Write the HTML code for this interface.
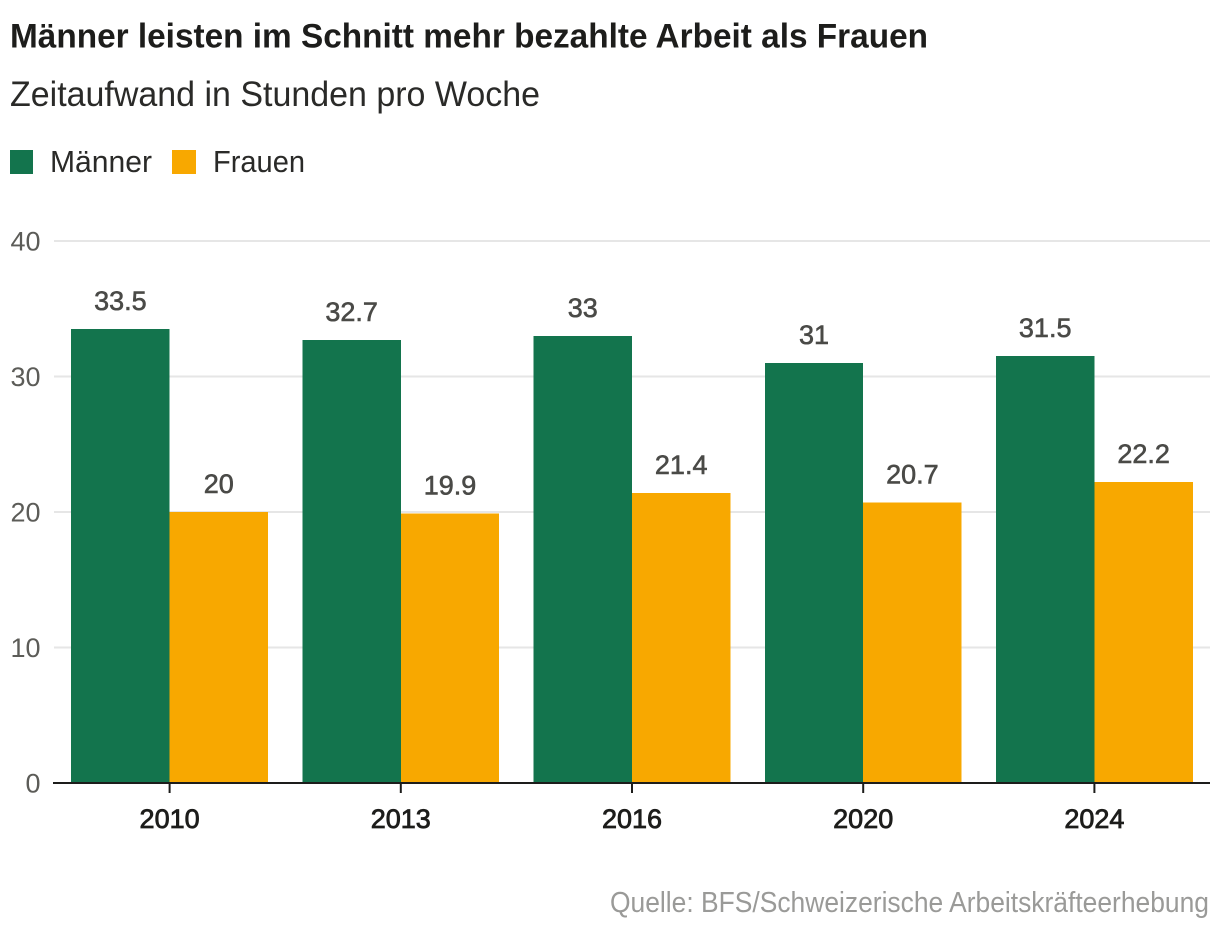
<!DOCTYPE html>
<html lang="de">
<head>
<meta charset="utf-8">
<title>Männer leisten im Schnitt mehr bezahlte Arbeit als Frauen</title>
<style>
html,body{margin:0;padding:0;background:#fff}
svg{display:block;font-family:"Liberation Sans",sans-serif}
</style>
</head>
<body>
<svg id="chart" xmlns="http://www.w3.org/2000/svg" width="1220" height="936" viewBox="0 0 1220 936">
<text x="10" y="47.5" font-size="34.5" font-weight="bold" fill="#1d1d1b" textLength="918" lengthAdjust="spacingAndGlyphs">Männer leisten im Schnitt mehr bezahlte Arbeit als Frauen</text>
<text x="10" y="106" font-size="35" fill="#2a2a28" textLength="530" lengthAdjust="spacingAndGlyphs">Zeitaufwand in Stunden pro Woche</text>
<rect x="10" y="150" width="23" height="24" fill="#13744d"/>
<text x="50" y="172" font-size="30.5" fill="#2a2a28" textLength="102" lengthAdjust="spacingAndGlyphs">Männer</text>
<rect x="172" y="150" width="24" height="24" fill="#f8a800"/>
<text x="213" y="172" font-size="30.5" fill="#2a2a28" textLength="92" lengthAdjust="spacingAndGlyphs">Frauen</text>
<g id="grid"></g>
<g id="bars" shape-rendering="crispEdges"></g>
<g id="values"></g>
<g id="xaxis"></g>
<text x="610" y="912" font-size="28.5" fill="#9a9a98" textLength="599" lengthAdjust="spacingAndGlyphs">Quelle: BFS/Schweizerische Arbeitskräfteerhebung</text>
</svg>
<script>
const categories = ["2010", "2013", "2016", "2020", "2024"];
const maenner = [33.5, 32.7, 33, 31, 31.5];
const frauen = [20, 19.9, 21.4, 20.7, 22.2];
const yTicks = [0, 10, 20, 30, 40];

const NS = "http://www.w3.org/2000/svg";
const plotLeft = 54, plotRight = 1210, plotBase = 783, plotTop = 241, yMax = 40;
const step = (plotRight - plotLeft) / categories.length;
const barWidth = 98.4;
function yScale(v) { return plotBase - (v / yMax) * (plotBase - plotTop); }
function xCenter(i) { return plotLeft + (i + 0.5) * step; }
function make(tag, attrs, parent, text) {
  const el = document.createElementNS(NS, tag);
  for (const k in attrs) el.setAttribute(k, attrs[k]);
  if (text !== undefined) el.textContent = text;
  parent.appendChild(el);
  return el;
}
const grid = document.getElementById("grid");
const bars = document.getElementById("bars");
const values = document.getElementById("values");
const xaxis = document.getElementById("xaxis");

yTicks.forEach(function (t) {
  const y = yScale(t);
  if (t !== 0) {
    const line = make("line", {x1: plotLeft, x2: plotRight, y1: y, y2: y, stroke: "#e6e6e6", "stroke-width": 2}, grid);
    
    
  }
  const label = make("text", {x: 40.5, y: y + 9.5, "text-anchor": "end", "font-size": 27, fill: "#5c5c58"}, grid, String(t));
  
  
});

function drawSeries(series, offset, color, seriesName) {
  series.forEach(function (v, i) {
    const x = xCenter(i) + offset;
    const y = yScale(v);
    const bar = make("rect", {x: x, y: y, width: barWidth, height: plotBase - y, fill: color}, bars);
    
    
    const label = make("text", {
      x: x + barWidth / 2, y: y - 19, "text-anchor": "middle", "font-size": 27,
      fill: "#4a4a47", stroke: "#4a4a47", "stroke-width": 0.6
    }, values, String(v));
    
    
  });
}
drawSeries(maenner, -barWidth, "#13744d", "maenner");
drawSeries(frauen, 0, "#f8a800", "frauen");

const axisLine = make("line", {x1: 53, x2: plotRight, y1: plotBase, y2: plotBase, stroke: "#1d1d1b", "stroke-width": 2}, xaxis);


categories.forEach(function (c, i) {
  const x = xCenter(i);
  const tick = make("line", {x1: x, x2: x, y1: plotBase, y2: plotBase + 10, stroke: "#1d1d1b", "stroke-width": 2}, xaxis);
  
  
  const label = make("text", {
    x: x, y: 828, "text-anchor": "middle", "font-size": 27,
    fill: "#1d1d1b", stroke: "#1d1d1b", "stroke-width": 0.8
  }, xaxis, c);
  
  
});
</script>
</body>
</html>
